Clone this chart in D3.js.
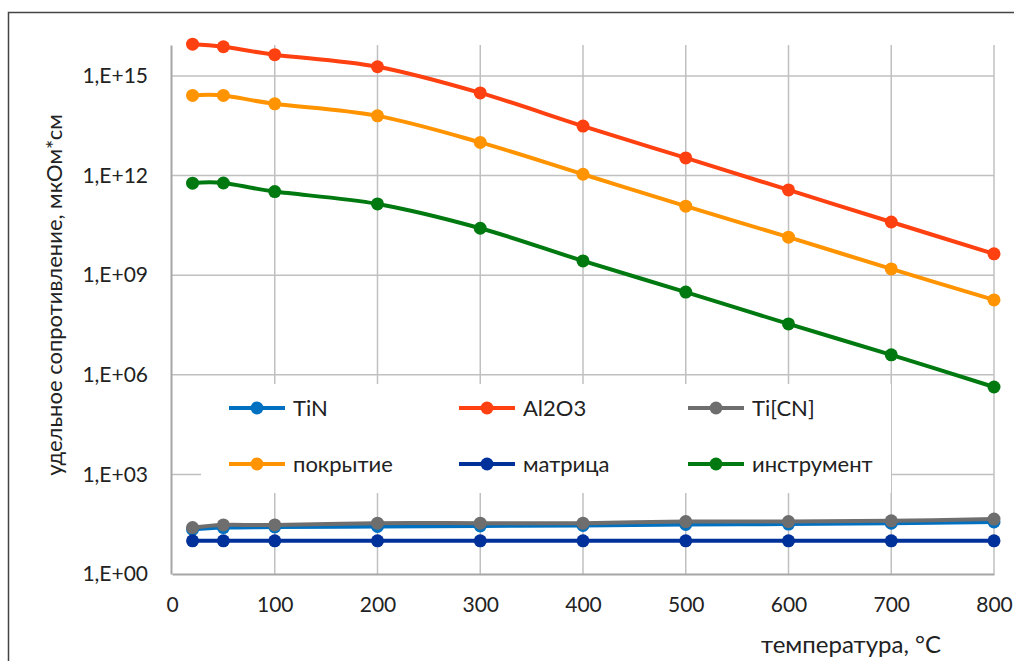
<!doctype html>
<html>
<head>
<meta charset="utf-8">
<style>
  body { margin: 0; background: #fff; }
  text { font-family: Lato, "Open Sans", sans-serif; fill: #222; }
</style>
<script src="https://d3js.org/d3.v7.min.js"></script>
</head>
<body>
<svg width="1014" height="661"></svg>
<script>
// temperature, °C
var temps = [20, 50, 100, 200, 300, 400, 500, 600, 700, 800];

// resistivity, мкОм*см
var tin       = [22, 25, 26, 27, 28, 29, 31, 32, 34, 37];
var al2o3     = [9.1e15, 7.6e15, 4.4e15, 1.9e15, 3.1e14, 3.1e13, 3.4e12, 3.7e11, 4.0e10, 4.4e9];
var ticn      = [25, 30, 30, 34, 34, 34, 38, 38, 40, 45];
var pokrytie  = [2.6e14, 2.6e14, 1.45e14, 6.3e13, 1.0e13, 1.1e12, 1.2e11, 1.4e10, 1.55e9, 1.8e8];
var matrica   = [10, 10, 10, 10, 10, 10, 10, 10, 10, 10];
var instrument= [5.9e11, 6.0e11, 3.3e11, 1.4e11, 2.6e10, 2.7e9, 3.1e8, 3.4e7, 4.0e6, 4.3e5];

var seriesNames = ["TiN", "Al2O3", "Ti[CN]", "покрытие", "матрица", "инструмент"];
var seriesColors = ["#0070c0", "#ff4010", "#6e6e6e", "#ff9400", "#00309a", "#007a10"];
var seriesValues = [tin, al2o3, ticn, pokrytie, matrica, instrument];

var xTicks = [0, 100, 200, 300, 400, 500, 600, 700, 800];
var yTickExps = [0, 3, 6, 9, 12, 15];

var svg = d3.select("svg");

// outer chart frame
svg.append("rect")
   .attr("x", 8.5).attr("y", 12.5)
   .attr("width", 1020).attr("height", 660)
   .attr("fill", "none").attr("stroke", "#444").attr("stroke-width", 1.5);

var x = d3.scaleLinear().domain([0, 800]).range([172, 994]);
var y = d3.scaleLog().domain([1, Math.pow(10, 15.934)]).range([574, 45]);

var grid = svg.append("g");
grid.selectAll(".vg").data(xTicks.slice(1)).enter().append("line")
    .attr("x1", d => x(d)).attr("x2", d => x(d))
    .attr("y1", y.range()[1]).attr("y2", y.range()[0])
    .attr("stroke", "#c0c0c0").attr("stroke-width", 1.5);
grid.selectAll(".hg").data(yTickExps.slice(1)).enter().append("line")
    .attr("x1", x(0)).attr("x2", x(800))
    .attr("y1", d => y(Math.pow(10, d))).attr("y2", d => y(Math.pow(10, d)))
    .attr("stroke", "#c0c0c0").attr("stroke-width", 1.5);

// axes
var xAxis = d3.axisBottom(x).tickValues(xTicks).tickSize(0).tickPadding(23);
svg.append("g").attr("transform", "translate(0,574)").call(xAxis)
   .call(g => g.select(".domain").attr("stroke", "#a6a6a6").attr("stroke-width", 2))
   .call(g => g.selectAll("text").attr("font-size", 21).attr("fill", "#222")
               .style("font-family", "Lato, sans-serif"));

var yAxis = d3.axisLeft(y).tickValues(yTickExps.map(e => Math.pow(10, e)))
    .tickSize(0).tickPadding(23)
    .tickFormat(d => "1,E+" + String(Math.round(Math.log10(d))).padStart(2, "0"));
svg.append("g").attr("transform", "translate(171,0)").call(yAxis)
   .call(g => g.select(".domain").attr("stroke", "#a6a6a6").attr("stroke-width", 2))
   .call(g => g.selectAll("text").attr("font-size", 21).attr("fill", "#222")
               .style("font-family", "Lato, sans-serif"));

// legend box (drawn under lines, above gridlines)
svg.append("rect").attr("x", 201).attr("y", 384).attr("width", 690).attr("height", 109)
   .attr("fill", "#fff");

var line = d3.line()
    .x(d => x(d[0])).y(d => y(d[1]))
    .curve(d3.curveCatmullRom.alpha(0));

var plot = svg.append("g");
seriesValues.forEach(function(vals, i) {
  var pts = temps.map((t, j) => [t, vals[j]]);
  plot.append("path").datum(pts)
      .attr("d", line)
      .attr("fill", "none")
      .attr("stroke", seriesColors[i])
      .attr("stroke-width", 4);
  plot.selectAll(".m" + i).data(pts).enter().append("circle")
      .attr("cx", d => x(d[0])).attr("cy", d => y(d[1]))
      .attr("r", 6.5)
      .attr("fill", seriesColors[i]);
});

// legend entries
var legendCols = [229, 459, 688];
var legendRows = [408, 464];
var legend = svg.append("g");
seriesNames.forEach(function(name, i) {
  var lx = legendCols[i % 3], ly = legendRows[Math.floor(i / 3)];
  var g = legend.append("g").attr("transform", "translate(" + lx + "," + ly + ")");
  g.append("line").attr("x1", 0).attr("x2", 56).attr("y1", 0).attr("y2", 0)
   .attr("stroke", seriesColors[i]).attr("stroke-width", 4);
  g.append("circle").attr("cx", 28).attr("cy", 0).attr("r", 6.5).attr("fill", seriesColors[i]);
  g.append("text").attr("x", 64).attr("y", 0).attr("dy", "0.35em")
   .attr("font-size", 22).text(name);
});

// axis titles
svg.append("text")
   .attr("transform", "translate(62,295) rotate(-90)")
   .attr("text-anchor", "middle")
   .attr("font-size", 22)
   .text("удельное сопротивление, мкОм*см");

svg.append("text")
   .attr("x", 851).attr("y", 653)
   .attr("text-anchor", "middle")
   .attr("font-size", 24)
   .text("температура, °C");
</script>
</body>
</html>
